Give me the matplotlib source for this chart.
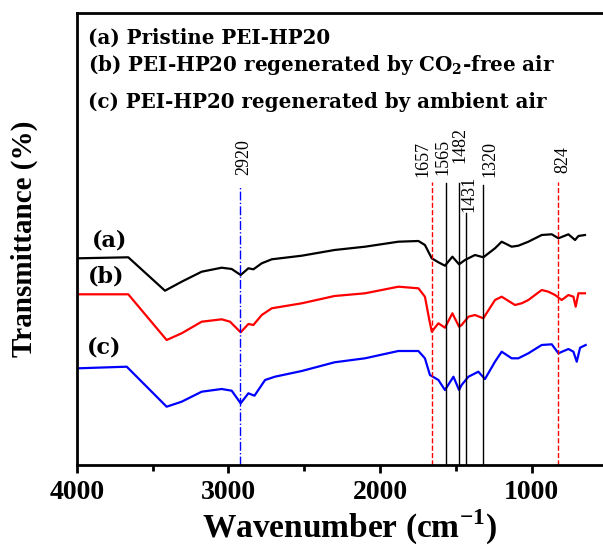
import matplotlib
matplotlib.use("Agg")
import matplotlib.pyplot as plt

plt.rcParams['font.family'] = ['Liberation Serif', 'DejaVu Serif']
plt.rcParams['mathtext.fontset'] = 'custom'
plt.rcParams['mathtext.rm'] = 'Liberation Serif:bold'
plt.rcParams['mathtext.bf'] = 'DejaVu Serif:bold'

# FTIR spectra (wavenumber in cm-1, transmittance in arbitrary offset units)
wn_a = [3990, 3660, 3418, 3308, 3176, 3044, 2978, 2919, 2868, 2835, 2780, 2714,
        2516, 2300, 2099, 1879, 1747, 1704, 1659, 1615, 1572, 1523, 1479, 1440,
        1374, 1319, 1242, 1198, 1132, 1088, 1022, 934, 868, 824, 758, 714, 692, 649]
t_a = [206.7, 207.7, 174.3, 183.3, 193.3, 197.3, 196, 190, 196.7, 195.7, 201.7, 205.7,
       209.3, 215, 218.3, 223.3, 224, 220, 206.7, 202.7, 199.3, 208.3, 200.7, 205,
       210, 207.7, 216.7, 223.3, 218.3, 219.3, 223.3, 230, 230.7, 226.7, 230.7, 225, 229, 230]

wn_b = [3990, 3660, 3407, 3308, 3176, 3044, 2989, 2919, 2868, 2835, 2780, 2714,
        2516, 2300, 2099, 1879, 1747, 1704, 1677, 1659, 1615, 1572, 1523, 1479,
        1462, 1417, 1374, 1319, 1242, 1198, 1110, 1066, 1022, 934, 890, 846, 802,
        758, 725, 710, 692, 649]
t_b = [170.7, 170.7, 125, 131.7, 143.3, 145.7, 143.3, 132.7, 141, 140, 150, 156.7,
       161.7, 169, 171.7, 178.3, 176.7, 168.3, 146.7, 133.3, 141.7, 137.3, 151.7, 138.3,
       140, 148.3, 150, 146.7, 165, 168.3, 160, 161.7, 165, 175, 173.3, 170, 165,
       170, 168.3, 158.3, 171.7, 171.7]

wn_c = [3990, 3670, 3407, 3308, 3176, 3044, 2978, 2919, 2868, 2828, 2758, 2693,
        2516, 2300, 2099, 1879, 1747, 1704, 1671, 1615, 1572, 1516, 1479, 1462,
        1417, 1352, 1308, 1242, 1198, 1132, 1088, 1022, 934, 868, 824, 758, 725,
        703, 681, 644]
t_c = [96.7, 98.3, 58.3, 63.3, 73.3, 76, 74.3, 61.7, 71.7, 69.3, 85, 88.3,
       94, 102.7, 106.7, 114, 114, 106.7, 90, 85, 75, 88.3, 75, 80,
       88.3, 93.3, 86, 103.3, 113.3, 106.7, 106.7, 111.7, 120, 120.7, 111.7, 116, 113.3,
       103.3, 117.3, 120]

series_labels = ['(a)', '(b)', '(c)']
legend_lines = ['(a) Pristine PEI-HP20',
                r'(b) PEI-HP20 regenerated by CO$_\mathbf{2}$-free air',
                '(c) PEI-HP20 regenerated by ambient air']

peaks = [2920, 1657, 1565, 1482, 1431, 1320, 824]
peak_styles = {2920: ('blue', '-.'), 1657: ('red', '--'), 824: ('red', '--')}
# top of each marker line and bottom of its label, in axes fraction
peak_line_top = [0.615, 0.626, 0.624, 0.624, 0.558, 0.619, 0.626]
peak_text_y = [0.642, 0.637, 0.642, 0.668, 0.560, 0.637, 0.646]
peak_text_dx = [2, -6.5, -2, 1, 2, 4.5, 3.5]

fig = plt.figure(figsize=(6.03, 5.49), dpi=100)
ax = fig.add_axes([76.7 / 603, 84 / 549, 546 / 603, 452 / 549])

for wn, t, c in zip([wn_a, wn_b, wn_c], [t_a, t_b, t_c], ['black', 'red', 'blue']):
    ax.plot(wn, t, color=c, lw=1.6)

for p, top, ty, dx in zip(peaks, peak_line_top, peak_text_y, peak_text_dx):
    col, ls = peak_styles.get(p, ('black', '-'))
    ax.axvline(p, ymin=0, ymax=top, color=col, ls=ls, lw=1.0)
    ax.annotate(str(p), xy=(p, ty), xycoords=('data', 'axes fraction'),
                xytext=(dx, 0), textcoords='offset points',
                rotation=90, ha='center', va='bottom', fontsize=13)

label_pos = [(0.061, 0.496), (0.053, 0.416), (0.050, 0.261)]
for lab, (x, y) in zip(series_labels, label_pos):
    ax.text(x, y, lab, transform=ax.transAxes, ha='center', va='center',
            fontsize=16, fontweight='bold', family='DejaVu Serif')

for txt, y in zip(legend_lines, [0.931, 0.872, 0.790]):
    ax.text(0.021, y, txt, transform=ax.transAxes, ha='left', va='baseline',
            fontsize=14.3, fontweight='bold', family='DejaVu Serif')

ax.set_xlim(4000, 400)
ax.set_ylim(0, 452)
ax.set_yticks([])
ax.set_xticks([4000, 3000, 2000, 1000])
ax.set_xticks([3500, 2500, 1500, 500], minor=True)
ax.tick_params(axis='x', which='major', direction='out', length=6, width=2,
               labelsize=20, pad=5)
ax.tick_params(axis='x', which='minor', direction='out', length=4, width=2)
for lab in ax.get_xticklabels():
    lab.set_fontweight('bold')
for s in ax.spines.values():
    s.set_linewidth(2)

ax.set_xlabel(r'Wavenumber (cm$^{\mathrm{-1}}$)', fontsize=24, fontweight='bold', labelpad=2)
ax.set_ylabel('Transmittance (%)', fontsize=21, fontweight='bold')
ax.yaxis.set_label_coords(-0.07, 0.5)

fig.savefig('out.png', dpi=100)
